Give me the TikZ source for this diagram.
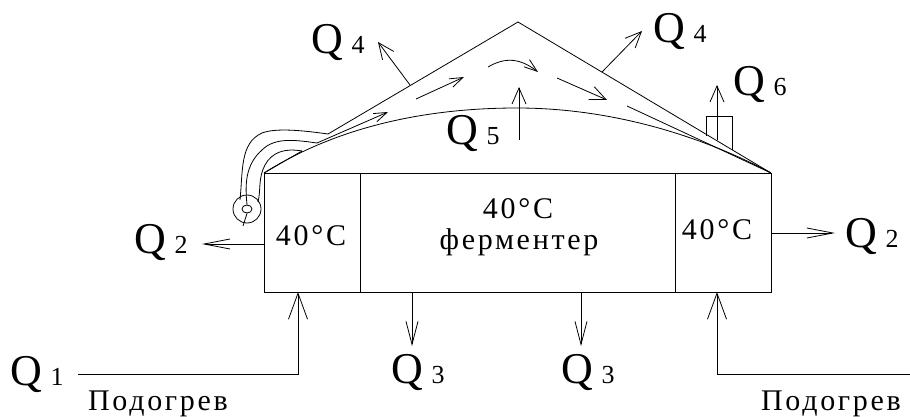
\documentclass[tikz,border=0pt]{standalone}
\usepackage{fontspec}
\setmainfont{Liberation Serif}
\newfontfamily\spacedfont[LetterSpace=9]{Liberation Serif}
\usepackage{tikz}
\usetikzlibrary{positioning,arrows.meta,shapes.geometric}
\newcommand{\qname}[1]{\fontsize{44}{44}\selectfont Q\hspace{8pt}\fontsize{26}{26}\selectfont #1}

\begin{document}
\begin{tikzpicture}[x=1pt, y=-1pt, line width=0.8pt, node distance=0pt,
  cell/.style={draw, minimum height=119pt, inner sep=0pt, outer sep=0pt},
  qlab/.style={anchor=base west, inner sep=0pt},
  word/.style={anchor=base, inner sep=0pt, font=\spacedfont\fontsize{30}{30}\selectfont},
  arr/.style={-{Straight Barb[length=16pt, width=14pt]}},
  flow/.style={-{Straight Barb[length=13pt, width=9pt]}},
  wide/.style={-{Straight Barb[length=26pt, width=10pt]}},
  drop/.style={-{Straight Barb[length=23pt, width=12pt]}},
  tall/.style={-{Straight Barb[length=26pt, width=19pt]}}]
\useasboundingbox (0,0) rectangle (910,417);
% fermenter
\node[cell, minimum width=96pt, anchor=south west] (lcell) at (264,292) {};
\node[cell, minimum width=315pt, right=of lcell] (mcell) {};
\node[cell, minimum width=96pt, right=of mcell] (rcell) {};
\node[word] (ltemp) at (311,245) {40°C};
\node[word] (mtemp) at (518,218) {40°C};
\node[word] (mname) at (519,249) {ферментер};
\node[word] (rtemp) at (717,239) {40°C};
% dome and roof
\coordinate (a) at (lcell.north west);
\coordinate (b) at (rcell.north east);
\coordinate (apex) at (518,22);
\coordinate (hosea) at (328,134);
\coordinate (hoseb) at (317,143);
\coordinate (hosec) at (302,151);
\draw (a) .. controls (340,125) and (430,108) .. (517,108) .. controls (610,108) and (700,135) .. (b);
\draw (hosea) -- (apex) -- (b);
\draw (a) -- (hosec);
% chimney
\coordinate (cha) at (706,136);
\coordinate (chb) at (732,150);
\draw (cha) -- (706,116) -- (732,116) -- (chb);
% heater coil
\node[draw, circle, minimum size=28pt, inner sep=0pt] (coil) at (247,209) {};
\node[draw, ellipse, minimum width=10pt, minimum height=8pt, inner sep=0pt] (eye) at (coil.center) {};
\draw (hosea) .. controls (300,130) and (275,128) .. (262,133) .. controls (240,143) and (243,170) .. (240,200);
\draw (hoseb) .. controls (295,140) and (275,137) .. (262,150) .. controls (245,165) and (245,185) .. (eye.north);
\draw (hosec) .. controls (285,148) and (272,152) .. (265,165) .. controls (258,178) and (261,190) .. (258,202);
\draw (eye.south) -- (243,226);
% inner flow
\draw[flow] (hoseb) -- (388,112);
\draw[flow] (416,99) -- (464,77);
\draw[flow] (488,67) .. controls (505,57) and (520,58) .. (538,72);
\draw[arr] (557,78) -- (607,100);
\draw (627,106) -- (b);
% heat flows
\node[qlab] (qa) at (10.5,385) {\qname{1}};
\node[qlab] (qbl) at (134.5,253) {\qname{2}};
\node[qlab] (qbr) at (845.5,247) {\qname{2}};
\node[qlab] (qcl) at (391.5,383) {\qname{3}};
\node[qlab] (qcr) at (561.5,383) {\qname{3}};
\node[qlab] (qdl) at (311.5,54) {\qname{4}};
\node[qlab] (qdr) at (653.5,43) {\qname{4}};
\node[qlab] (qe) at (446.5,145) {\qname{5}};
\node[qlab] (qf) at (733.5,96) {\qname{6}};
\draw[tall] (78,374) -| ([xshift=-62pt]lcell.south east);
\draw[tall] (910,374) -| ([xshift=-54pt]rcell.south east);
\draw[wide] ([yshift=-71pt]lcell.north west) -- (202,244);
\draw[wide] ([yshift=-60pt]rcell.north east) -- (835,233);
\draw[drop] ([xshift=52pt]mcell.south west) -- (412,346);
\draw[drop] ([xshift=221pt]mcell.south west) -- (581,346);
\draw[arr] (410,85) -- (378,42);
\draw[arr] (602,72) -- (642,31);
\draw[arr] (519,140) -- (519,87);
\draw[arr] (717,140) -- (717,85);
\node[word] (lheat) at (158,410) {Подогрев};
\node[word] (rheat) at (831,410) {Подогрев};
\end{tikzpicture}
\end{document}
